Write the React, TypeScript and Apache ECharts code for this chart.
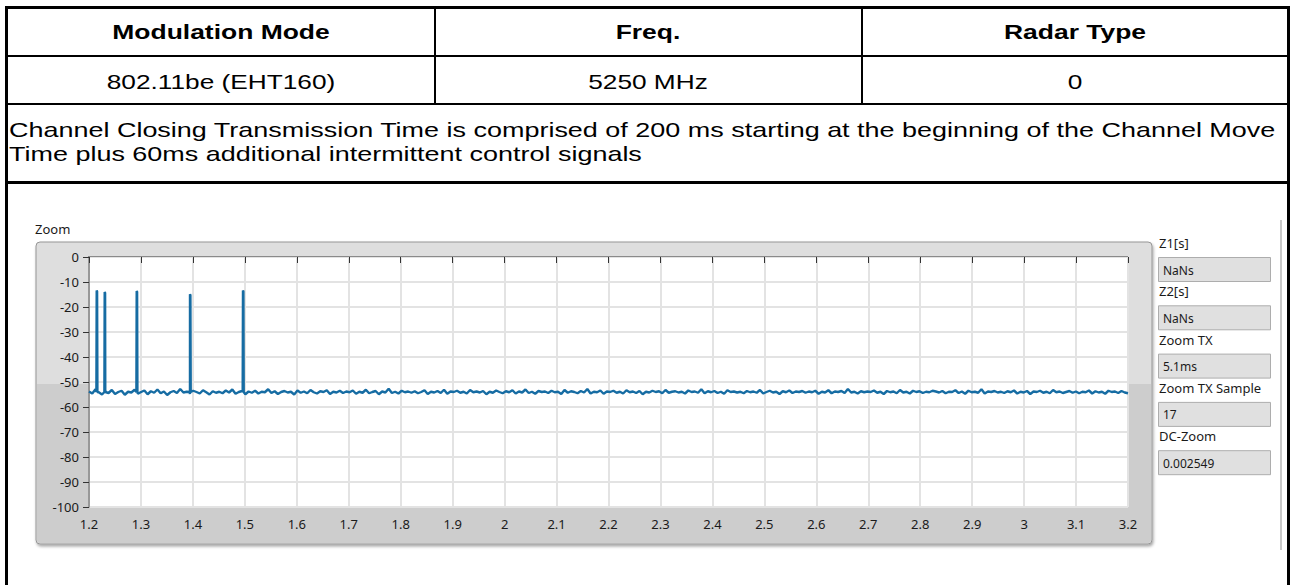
import React, { useEffect, useRef } from "react";
import * as echarts from "echarts";

const headerLabels = ["Modulation Mode", "Freq.", "Radar Type"];
const headerValues = ["802.11be (EHT160)", "5250 MHz", "0"];
const noteLines = [
  "Channel Closing Transmission Time is comprised of 200 ms starting at the beginning of the Channel Move",
  "Time plus 60ms additional intermittent control signals",
];
const panelLabels = ["Z1[s]", "Z2[s]", "Zoom TX", "Zoom TX Sample", "DC-Zoom"];
const panelValues = ["NaNs", "NaNs", "5.1ms", "17", "0.002549"];

const xMin = 1.2;
const xMax = 3.2;
const xStep = 0.1;
const yMin = -100;
const yMax = 0;
const yStep = 10;

const spikeTimes = [1.2148, 1.2302, 1.2918, 1.3944, 1.4964];
const spikePeaks = [-13.4, -14.0, -13.6, -14.9, -13.4];

const noiseLevels = [
  -53.8, -54.6, -52.9, -54.1, -55.0, -53.6, -54.4, -53.2, -54.8, -54.0, -53.5, -55.1, -53.9, -54.2, -53.1, -54.7, -54.0, -53.4, -54.9, -53.7,
  -54.3, -53.0, -54.5, -53.8, -55.2, -54.1, -53.6, -54.4, -52.8, -54.2, -53.9, -54.8, -53.5, -54.0, -54.6, -53.3, -54.1, -55.0, -53.7, -54.3,
  -53.9, -54.5, -53.4, -54.2, -53.0, -54.7, -54.0, -53.6, -54.9, -53.8, -54.3, -53.5, -54.6, -53.9, -54.1, -52.9, -54.4, -53.7, -54.8, -54.0,
  -53.6, -54.2, -53.9, -55.0, -53.4, -54.3, -53.8, -54.5, -53.2, -54.1, -54.6, -53.7, -54.0, -53.3, -54.8, -53.9, -54.2, -53.5, -54.4, -53.8,
  -54.1, -53.4, -54.7, -53.9, -54.3, -53.1, -54.5, -54.0, -53.6, -54.9, -53.8, -54.2, -52.7, -54.4, -53.9, -54.6, -53.5, -54.1, -53.8, -54.3,
  -53.7, -54.5, -54.0, -53.3, -54.8, -53.9, -54.2, -53.6, -54.4, -53.1, -54.7, -53.8, -54.0, -53.5, -54.3, -53.9, -54.6, -53.2, -54.1, -53.8,
  -54.2, -53.6, -54.9, -53.9, -54.3, -53.4, -54.0, -54.5, -53.7, -54.1, -53.3, -54.6, -53.8, -54.2, -53.0, -54.4, -53.9, -54.7, -53.6, -54.0,
  -53.8, -54.4, -53.5, -54.1, -53.9, -54.8, -53.2, -54.3, -53.7, -54.0, -54.5, -53.6, -54.2, -52.8, -54.6, -53.9, -54.1, -53.4, -54.7, -53.8,
  -54.0, -53.5, -54.3, -53.9, -54.6, -53.3, -54.1, -53.8, -54.4, -53.6, -54.9, -53.9, -54.2, -53.5, -54.0, -53.7, -54.5, -53.2, -54.3, -53.9,
  -53.7, -54.2, -53.9, -54.6, -53.4, -54.0, -53.8, -54.3, -52.9, -54.5, -53.7, -54.1, -53.6, -54.4, -53.9, -54.7, -53.3, -54.0, -53.8, -54.2,
  -53.9, -54.5, -53.6, -54.1, -53.8, -54.3, -53.2, -54.6, -54.0, -53.5, -54.2, -53.9, -54.8, -53.7, -54.1, -53.4, -54.4, -53.8, -54.0, -53.6,
  -54.3, -53.8, -54.1, -53.5, -54.7, -53.9, -54.2, -53.3, -54.5, -53.8, -54.0, -53.6, -54.4, -52.8, -54.2, -53.9, -54.6, -53.7, -54.1, -53.8,
  -54.0, -53.4, -54.3, -53.9, -54.8, -53.6, -54.1, -53.8, -54.5, -53.2, -54.2, -53.9, -54.6, -53.5, -54.0, -53.7, -54.4, -53.9, -54.1, -53.5,
  -53.8, -54.2, -53.6, -54.5, -53.9, -54.0, -53.3, -54.4, -53.8, -54.7, -53.5, -54.1, -53.9, -54.3, -52.9, -54.6, -53.8, -54.0, -53.6, -54.2,
  -53.9, -54.4, -53.7, -54.1, -53.4, -54.6, -53.9, -54.2, -53.6, -54.8, -53.8, -54.0, -53.5, -54.3, -53.9, -54.5, -53.2, -54.1, -53.8, -54.4,
  -54.0, -53.6, -54.3, -53.8, -54.5, -53.9, -54.1, -53.4, -54.6, -53.7, -54.2, -53.9, -54.7, -53.5, -54.0, -53.8, -54.4, -53.6, -54.2, -54.5,
];

function buildSeries(): number[][] {
  const step = (xMax - xMin) / (noiseLevels.length - 1);
  const pts: number[][] = noiseLevels.map((v, i) => [xMin + i * step, v]);
  spikeTimes.forEach((t, k) => {
    const p = spikePeaks[k];
    pts.push([t - 0.0006, -54.0]);
    pts.push([t, p]);
    pts.push([t + 0.0008, p - 0.4]);
    pts.push([t + 0.0014, -54.0]);
  });
  pts.sort((a, b) => a[0] - b[0]);
  return pts;
}

const TXT = '"Liberation Sans", Arial, sans-serif';
const UI = '"Noto Sans", "Open Sans", sans-serif';

export default function App() {
  const ref = useRef<HTMLDivElement>(null);
  useEffect(() => {
    if (!ref.current) return;
    const chart = echarts.init(ref.current, null, { renderer: "svg" });
    const g: any[] = [];
    const black = (x: number, y: number, w: number, h: number) =>
      g.push({ type: "rect", silent: true, z: 0, shape: { x, y, width: w, height: h }, style: { fill: "#000" } });
    // table borders
    black(5, 6, 1285, 3);
    black(5, 6, 3, 600);
    black(1287, 6, 3, 600);
    black(5, 55, 1285, 2);
    black(5, 103, 1285, 2);
    black(5, 181, 1285, 3);
    black(434, 6, 2, 98);
    black(861, 6, 2, 98);
    const colCenters = [221, 648, 1075];
    headerLabels.forEach((t, i) =>
      g.push({
        type: "text", z: 1, x: colCenters[i], y: 32, scaleX: 1.26,
        style: { text: t, fill: "#000", font: `bold 21px ${TXT}`, textAlign: "center", verticalAlign: "middle" },
      })
    );
    headerValues.forEach((t, i) =>
      g.push({
        type: "text", z: 1, x: colCenters[i], y: 81, scaleX: 1.25,
        style: { text: t, fill: "#000", font: `21px ${TXT}`, textAlign: "center", verticalAlign: "middle" },
      })
    );
    noteLines.forEach((t, i) =>
      g.push({
        type: "text", z: 1, x: 9, y: 130 + i * 24, scaleX: 1.285,
        style: { text: t, fill: "#000", font: `21px ${TXT}`, textAlign: "left", verticalAlign: "middle" },
      })
    );
    // graph frame
    g.push({
      type: "rect", silent: true, z: 0,
      shape: { x: 36, y: 242, width: 1116, height: 302, r: 4 },
      style: { fill: "#dedede", stroke: "#969696", lineWidth: 1, shadowBlur: 3, shadowOffsetX: 1, shadowOffsetY: 2, shadowColor: "rgba(0,0,0,0.35)" },
    });
    g.push({
      type: "rect", silent: true, z: 0,
      shape: { x: 37, y: 384, width: 1114, height: 159, r: [0, 0, 3, 3] },
      style: { fill: "#cdcdcd" },
    });
    g.push({
      type: "line", silent: true, z: 5,
      shape: { x1: 88, y1: 256.5, x2: 1128, y2: 256.5 },
      style: { stroke: "#8a8a8a", lineWidth: 1 },
    });
    g.push({
      type: "text", z: 1, x: 35, y: 229,
      style: { text: "Zoom", fill: "#1a1a1a", font: `13px ${UI}`, textAlign: "left", verticalAlign: "middle" },
    });
    // right panel
    panelLabels.forEach((t, i) => {
      const off = i * 48.3;
      g.push({
        type: "text", z: 1, x: 1159, y: 243 + off,
        style: { text: t, fill: "#1a1a1a", font: `13px ${UI}`, textAlign: "left", verticalAlign: "middle" },
      });
      g.push({
        type: "rect", silent: true, z: 0,
        shape: { x: 1158.5, y: 257.5 + off, width: 112, height: 24 },
        style: { fill: "#e0e0e0", stroke: "#adadad", lineWidth: 1 },
      });
      g.push({
        type: "text", z: 1, x: 1163, y: 270 + off,
        style: { text: panelValues[i], fill: "#1a1a1a", font: `12px ${UI}`, textAlign: "left", verticalAlign: "middle" },
      });
    });
    g.push({
      type: "line", silent: true, z: 0,
      shape: { x1: 1281, y1: 220, x2: 1281, y2: 550 },
      style: { stroke: "#c8c8c8", lineWidth: 2 },
    });

    const fmt = (v: number) => String(Number(v.toFixed(1)));

    chart.setOption({
      animation: false,
      backgroundColor: "#ffffff",
      graphic: g,
      grid: {
        left: 89, top: 257, right: 1293 - 1128, bottom: 585 - 507,
        show: true, backgroundColor: "#ffffff", borderWidth: 0, z: 2,
      },
      xAxis: {
        type: "value", min: xMin, max: xMax, interval: xStep, z: 3,
        axisLine: { show: false },
        axisTick: { show: true, length: 6, lineStyle: { color: "#333", width: 1 } },
        axisLabel: { margin: 10, color: "#1a1a1a", fontFamily: UI, fontSize: 13, formatter: fmt },
        splitLine: { show: true, lineStyle: { color: "#e3e3e3", width: 2 } },
      },
      yAxis: {
        type: "value", min: yMin, max: yMax, interval: yStep, z: 3,
        axisLine: { show: true, lineStyle: { color: "#7f7f7f", width: 1.5 } },
        axisTick: { show: true, length: 6, lineStyle: { color: "#333", width: 1 } },
        axisLabel: { margin: 10, color: "#1a1a1a", fontFamily: UI, fontSize: 13 },
        splitLine: { show: true, lineStyle: { color: "#e3e3e3", width: 2 } },
      },
      series: [
        {
          type: "line", z: 4,
          data: buildSeries(),
          showSymbol: false, symbol: "none",
          lineStyle: { color: "#166ca3", width: 2.4 },
          clip: true,
        },
      ],
    });
    return () => chart.dispose();
  }, []);
  return (
    <div
      ref={ref}
      style={{ position: "fixed", left: 0, top: 0, width: 1293, height: 585, background: "#fff" }}
    />
  );
}
